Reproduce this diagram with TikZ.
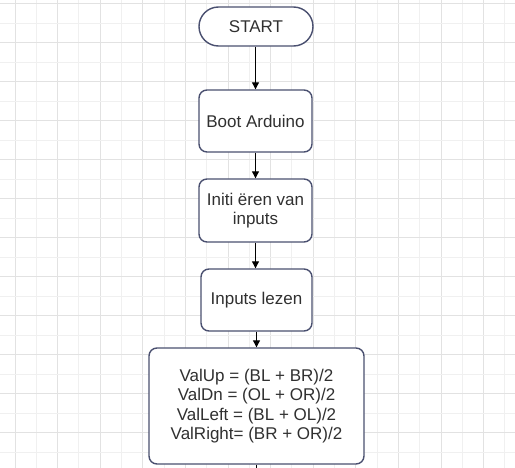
\documentclass[tikz,border=0pt]{standalone}
\usepackage{fontspec}
\setmainfont{Liberation Sans}
\usetikzlibrary{shapes.misc,arrows.meta}
\definecolor{gridmaj}{HTML}{E2E2E2}
\definecolor{gridmin}{HTML}{F0F0F0}
\definecolor{boxline}{HTML}{4A5070}
\definecolor{txt}{HTML}{303030}
\tikzset{
  fcbox/.style={draw=boxline, line width=1.4pt, fill=white, rounded corners=8pt,
    align=center, inner sep=0pt, text=txt, font=\fontsize{17}{19.5}\selectfont},
  fcterm/.style={draw=boxline, line width=1.4pt, fill=white, rounded rectangle,
    inner sep=0pt, text=txt, font=\fontsize{17}{19.5}\selectfont},
  flow/.style={line width=1.1pt, -{Triangle[length=7pt,width=7pt]}},
  flowend/.style={line width=1.1pt}
}
\begin{document}
\begin{tikzpicture}[x=1pt,y=-1pt]
\useasboundingbox (0,0) rectangle (515,468);
\fill[white] (0,0) rectangle (515,468);
% grid
\foreach \i in {0,...,23}{
  \pgfmathsetmacro{\xx}{15+21.3*\i}
  \pgfmathtruncatemacro{\ev}{mod(\i,2)}
  \ifnum\ev=0
    \draw[gridmaj, line width=1pt] (\xx,0) -- (\xx,468);
  \else
    \draw[gridmin, line width=1pt] (\xx,0) -- (\xx,468);
  \fi
}
\foreach \j in {0,...,23}{
  \pgfmathsetmacro{\yy}{3.9+19.5*\j}
  \pgfmathtruncatemacro{\ev}{mod(\j,2)}
  \ifnum\ev=0
    \draw[gridmaj, line width=1pt] (0,\yy) -- (515,\yy);
  \else
    \draw[gridmin, line width=1pt] (0,\yy) -- (515,\yy);
  \fi
}
% nodes
\node[fcterm, minimum width=114pt, minimum height=39pt] (start) at (256,26.5) {START};
\node[fcbox, minimum width=113pt, minimum height=62pt] (boot) at (255.5,121) {Boot Arduino};
\node[fcbox, minimum width=113pt, minimum height=63pt] (init) at (255.5,210.5) {Initi ëren van\\inputs};
\node[fcbox, minimum width=111pt, minimum height=62pt] (read) at (256.5,300) {Inputs lezen};
\node[fcbox, minimum width=215pt, minimum height=116pt] (calc) at (256.5,406)
  {ValUp = (BL + BR)/2\\ValDn = (OL + OR)/2\\ValLeft = (BL + OL)/2\\ValRight= (BR + OR)/2};
\coordinate (out) at (256.5,470);
% connectors
\draw[flow] (start.south -| boot.north) -- (boot.north);
\draw[flow] (boot) -- (init);
\draw[flow] (init.south) -- (init.south |- read.north);
\draw[flow] (read) -- (calc);
\draw[flowend] (calc.south) -- (out);
\end{tikzpicture}
\end{document}
